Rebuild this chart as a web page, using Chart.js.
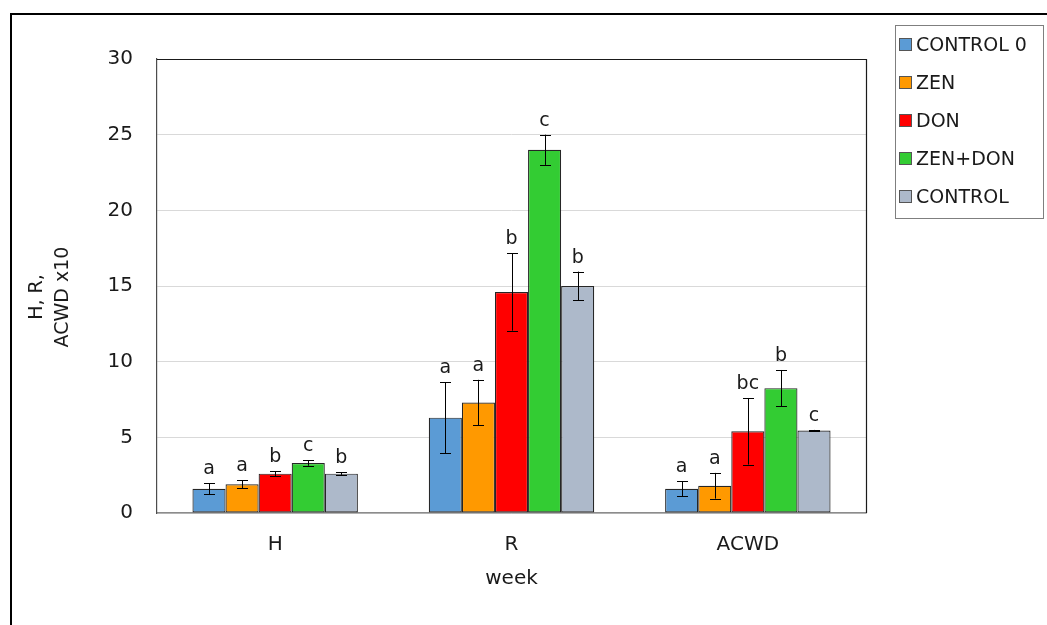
<!DOCTYPE html>
<html>
<head>
<meta charset="utf-8">
<script src="https://cdn.jsdelivr.net/npm/chart.js@4/dist/chart.umd.min.js"></script>
<style>
  html, body { margin: 0; padding: 0; background: #ffffff; }
  #wrap { width: 1047px; height: 625px; position: relative; }
</style>
</head>
<body>
<div id="wrap"><canvas id="c" width="1047" height="625"></canvas></div>
<script>
// ---- data ----
const categories = ['H', 'R', 'ACWD'];
const seriesNames = ['CONTROL 0', 'ZEN', 'DON', 'ZEN+DON', 'CONTROL'];
const yTicks = [0, 5, 10, 15, 20, 25, 30];
const yTitleLines = ['H, R,', 'ACWD x10'];

const control0 = [1.6, 6.3, 1.6];
const zen      = [1.9, 7.3, 1.8];
const don      = [2.6, 14.6, 5.4];
const zenDon   = [3.3, 24.0, 8.25];
const control  = [2.6, 15.0, 5.45];

const control0Err = [0.35, 2.35, 0.5];
const zenErr      = [0.25, 1.5, 0.85];
const donErr      = [0.17, 2.55, 2.2];
const zenDonErr   = [0.18, 1.0, 1.2];
const controlErr  = [0.08, 0.95, 0.04];

const control0Letters = ['a', 'a', 'a'];
const zenLetters      = ['a', 'a', 'a'];
const donLetters      = ['b', 'b', 'bc'];
const zenDonLetters   = ['c', 'c', 'b'];
const controlLetters  = ['b', 'b', 'c'];

const seriesValues  = [control0, zen, don, zenDon, control];
const seriesErrors  = [control0Err, zenErr, donErr, zenDonErr, controlErr];
const seriesLetters = [control0Letters, zenLetters, donLetters, zenDonLetters, controlLetters];
const colors = ['#5B9BD5', '#FF9900', '#FF0000', '#33CC33', '#ADB9CA'];

const FONT = '"DejaVu Sans", "Liberation Sans", sans-serif';
const TEXT = '#1a1a1a';

const datasets = seriesNames.map((name, i) => ({
  label: name,
  data: seriesValues[i],
  errors: seriesErrors[i],
  letters: seriesLetters[i],
  backgroundColor: colors[i],
  borderColor: '#262626',
  borderWidth: 1.2,
  borderSkipped: false,
  barPercentage: 1.0,
  categoryPercentage: 0.7
}));

const decorPlugin = {
  id: 'decor',
  beforeDraw(chart) {
    const ctx = chart.ctx;
    ctx.save();
    ctx.fillStyle = '#ffffff';
    ctx.fillRect(0, 0, chart.width, chart.height);
    ctx.restore();
  },
  afterDatasetsDraw(chart) {
    const ctx = chart.ctx;
    const y = chart.scales.y;
    ctx.save();
    chart.data.datasets.forEach((ds, di) => {
      const meta = chart.getDatasetMeta(di);
      meta.data.forEach((bar, i) => {
        const v = ds.data[i], e = ds.errors[i];
        const yt = y.getPixelForValue(v + e);
        const yb = y.getPixelForValue(v - e);
        const x = Math.round(bar.x) + 0.5;
        ctx.strokeStyle = '#000000';
        ctx.lineWidth = 1;
        ctx.beginPath();
        ctx.moveTo(x, yt); ctx.lineTo(x, yb);
        ctx.moveTo(x - 5.5, Math.round(yt) + 0.5); ctx.lineTo(x + 5.5, Math.round(yt) + 0.5);
        ctx.moveTo(x - 5.5, Math.round(yb) + 0.5); ctx.lineTo(x + 5.5, Math.round(yb) + 0.5);
        ctx.stroke();
        ctx.fillStyle = TEXT;
        ctx.font = '19px ' + FONT;
        ctx.textAlign = 'center';
        ctx.textBaseline = 'alphabetic';
        ctx.fillText(ds.letters[i], bar.x, yt - 9);
      });
    });
    ctx.restore();
  },
  afterDraw(chart) {
    const ctx = chart.ctx;
    const a = chart.chartArea;
    ctx.save();
    // plot area top/right border
    ctx.strokeStyle = '#1a1a1a';
    ctx.lineWidth = 1.2;
    ctx.beginPath();
    ctx.moveTo(a.left, a.top + 0.5);
    ctx.lineTo(a.right + 0.5, a.top + 0.5);
    ctx.lineTo(a.right + 0.5, a.bottom);
    ctx.stroke();
    // y axis title (two lines, rotated)
    ctx.fillStyle = TEXT;
    ctx.font = '19px ' + FONT;
    ctx.textAlign = 'center';
    ctx.textBaseline = 'middle';
    yTitleLines.forEach((t, i) => {
      ctx.save();
      ctx.translate(37 + i * 26, 297);
      ctx.rotate(-Math.PI / 2);
      ctx.fillText(t, 0, 0);
      ctx.restore();
    });
    // outer frame
    ctx.strokeStyle = '#000000';
    ctx.lineWidth = 2;
    ctx.beginPath();
    ctx.moveTo(11, chart.height);
    ctx.lineTo(11, 14);
    ctx.lineTo(chart.width, 14);
    ctx.stroke();
    // legend
    const lx = 895, ly = 25, lw = 148, lh = 193;
    ctx.strokeStyle = '#7f7f7f';
    ctx.lineWidth = 1;
    ctx.strokeRect(lx + 0.5, ly + 0.5, lw, lh);
    chart.data.datasets.forEach((ds, i) => {
      const cy = 45 + i * 38;
      ctx.fillStyle = ds.backgroundColor;
      ctx.fillRect(900, cy - 6, 11, 11);
      ctx.strokeStyle = '#555555';
      ctx.strokeRect(899.5, cy - 6.5, 12, 12);
      ctx.fillStyle = TEXT;
      ctx.font = '19px ' + FONT;
      ctx.textAlign = 'left';
      ctx.textBaseline = 'middle';
      ctx.fillText(ds.label, 916, cy + 1);
    });
    ctx.restore();
  }
};

new Chart(document.getElementById('c'), {
  type: 'bar',
  data: { labels: categories, datasets },
  options: {
    responsive: false,
    animation: false,
    devicePixelRatio: 1,
    layout: { padding: { left: 0, top: 59, right: 181, bottom: 0 } },
    plugins: { legend: { display: false }, tooltip: { enabled: false } },
    scales: {
      x: {
        grid: { display: false, drawTicks: false },
        border: { color: '#8c8c8c', width: 1.5 },
        ticks: { color: TEXT, font: { family: FONT, size: 20 }, padding: 20 },
        title: { display: true, text: 'week', color: TEXT,
                 font: { family: FONT, size: 20 }, padding: { top: 0, bottom: 34 } },
        afterFit(scale) { scale.height = 112; }
      },
      y: {
        min: 0, max: 30,
        afterBuildTicks(scale) { scale.ticks = yTicks.map(v => ({ value: v })); },
        grid: { color: '#d9d9d9', drawTicks: false },
        border: { color: '#4d4d4d', width: 1.2 },
        ticks: { color: TEXT, font: { family: FONT, size: 20 }, padding: 24 },
        title: { display: false },
        afterFit(scale) { scale.width = 157; }
      }
    }
  },
  plugins: [decorPlugin]
});
</script>
</body>
</html>
